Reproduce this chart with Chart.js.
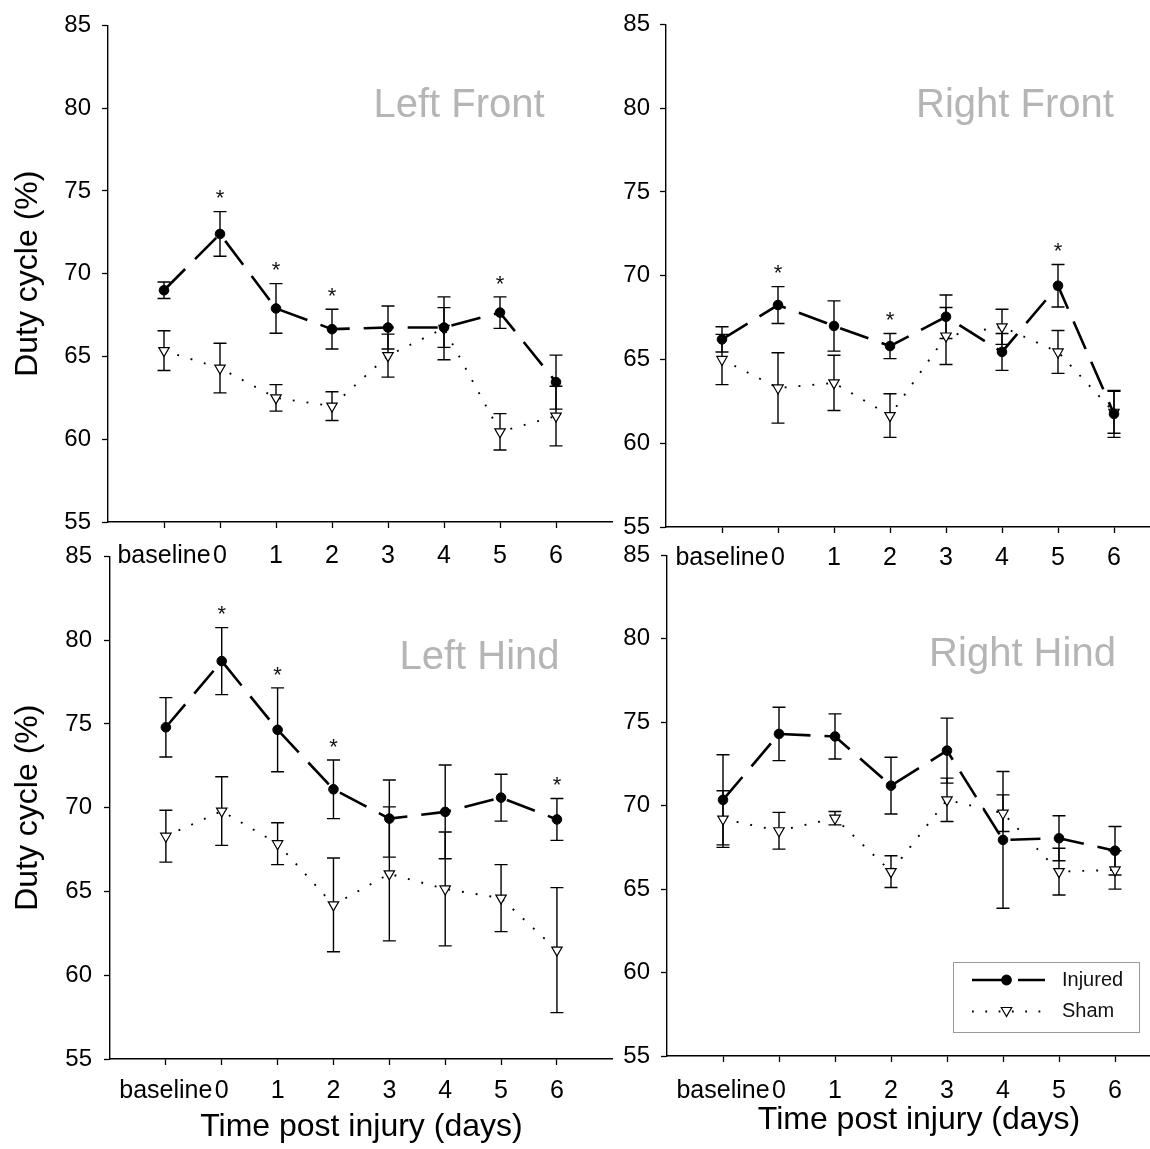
<!DOCTYPE html>
<html>
<head>
<meta charset="utf-8">
<script src="https://cdn.jsdelivr.net/npm/chart.js@4.4.1/dist/chart.umd.min.js"></script>
<style>
html,body{margin:0;padding:0;overflow:hidden;background:#fff;width:1150px;height:1149px;}
canvas{position:absolute;}
</style>
</head>
<body>
<canvas id="c0"></canvas>
<canvas id="c1"></canvas>
<canvas id="c2"></canvas>
<canvas id="c3"></canvas>
<script>
// ---------- DATA ----------
const categories = ['baseline', '0', '1', '2', '3', '4', '5', '6'];
const yTicks = [55, 60, 65, 70, 75, 80, 85];
const seriesNames = ['Injured', 'Sham'];
const panelTitles = ['Left Front', 'Right Front', 'Left Hind', 'Right Hind'];
const yAxisTitle = 'Duty cycle (%)';
const xAxisTitle = 'Time post injury (days)';

const leftFrontInjured   = [69.0, 72.4, 67.9, 66.65, 66.75, 66.75, 67.65, 63.45];
const leftFrontInjuredSE = [0.5, 1.35, 1.5, 1.2, 1.3, 1.2, 0.95, 1.63];
const leftFrontSham      = [65.35, 64.3, 62.5, 62.0, 65.05, 66.7, 60.45, 61.4];
const leftFrontShamSE    = [1.2, 1.5, 0.8, 0.87, 1.3, 1.9, 1.1, 1.8];
const leftFrontStars     = [1, 2, 3, 6];

const rightFrontInjured   = [66.2, 68.25, 67.0, 65.8, 67.55, 65.45, 69.4, 61.75];
const rightFrontInjuredSE = [0.75, 1.1, 1.5, 0.75, 1.3, 1.1, 1.27, 1.4];
const rightFrontSham      = [65.0, 63.3, 63.6, 61.65, 66.4, 66.95, 65.45, 61.85];
const rightFrontShamSE    = [1.5, 2.1, 1.65, 1.3, 1.7, 1.05, 1.28, 1.25];
const rightFrontStars     = [1, 3, 6];

const leftHindInjured   = [74.8, 78.75, 74.65, 71.1, 69.35, 69.75, 70.6, 69.3];
const leftHindInjuredSE = [1.77, 2.0, 2.5, 1.75, 2.3, 2.8, 1.4, 1.25];
const leftHindSham      = [68.3, 69.8, 67.85, 64.2, 66.05, 65.15, 64.6, 61.5];
const leftHindShamSE    = [1.55, 2.05, 1.25, 2.8, 4.0, 3.4, 2.0, 3.73];
const leftHindStars     = [1, 2, 3, 7];

const rightHindInjured   = [70.35, 74.3, 74.15, 71.2, 73.3, 67.95, 68.05, 67.3];
const rightHindInjuredSE = [2.7, 1.6, 1.35, 1.7, 1.95, 4.1, 1.35, 1.45];
const rightHindSham      = [69.2, 68.5, 69.25, 66.05, 70.35, 69.55, 66.05, 66.15];
const rightHindShamSE    = [1.7, 1.1, 0.4, 0.95, 1.3, 1.1, 1.4, 1.15];
const rightHindStars     = [];

// ---------- LAYOUT ----------
const FONT = "'Liberation Sans', Arial, Helvetica, sans-serif";
Chart.defaults.font.family = FONT;
Chart.defaults.color = '#000';

const panels = [
  {id:'c0', title:panelTitles[0], inj:leftFrontInjured, injSE:leftFrontInjuredSE, sham:leftFrontSham, shamSE:leftFrontShamSE, stars:leftFrontStars,
   left:0, top:0, w:620, h:580, cL:108, cT:18, cB:522, cR:612, yTitle:true, xTitle:false, xPad:14, yPad:11, xTitlePad:0, tx:459, ty:102.5, legend:false},
  {id:'c1', title:panelTitles[1], inj:rightFrontInjured, injSE:rightFrontInjuredSE, sham:rightFrontSham, shamSE:rightFrontShamSE, stars:rightFrontStars,
   left:560, top:0, w:620, h:580, cL:666, cT:22, cB:527, cR:1170, yTitle:false, xTitle:false, xPad:11, yPad:10, xTitlePad:0, tx:1015, ty:102.5, legend:false},
  {id:'c2', title:panelTitles[2], inj:leftHindInjured, injSE:leftHindInjuredSE, sham:leftHindSham, shamSE:leftHindShamSE, stars:leftHindStars,
   left:0, top:530, w:620, h:619, cL:110, cT:553, cB:1059, cR:614, yTitle:true, xTitle:true, xPad:12, yPad:12, xTitlePad:3, tx:479.5, ty:654.5, legend:false},
  {id:'c3', title:panelTitles[3], inj:rightHindInjured, injSE:rightHindInjuredSE, sham:rightHindSham, shamSE:rightHindShamSE, stars:rightHindStars,
   left:560, top:530, w:620, h:619, cL:667, cT:553, cB:1056, cR:1171, yTitle:false, xTitle:true, xPad:15, yPad:11, xTitlePad:10, tx:1022.5, ty:651.5, legend:true,
   lg:{x0:953, y0:962, x1:1139, y1:1032, lineX0:972, lineX1:1045, markX:1006.5, row1:980, row2:1011.5, textX:1062}}
];

const CIRCLE_R = 4.8;
const TRI_R = 6;

function drawMarker(ctx, kind, x, y) {
  ctx.save();
  ctx.lineWidth = 1.2;
  ctx.strokeStyle = '#000';
  ctx.setLineDash([]);
  if (kind === 'circle') {
    ctx.fillStyle = '#000';
    ctx.beginPath(); ctx.arc(x, y, CIRCLE_R, 0, Math.PI * 2); ctx.fill(); ctx.stroke();
  } else {
    const r = TRI_R;
    ctx.fillStyle = '#fff';
    ctx.beginPath();
    for (let k = 0; k < 3; k++) {
      const a = Math.PI + k * 2 * Math.PI / 3;
      const px = x + Math.sin(a) * r, py = y - Math.cos(a) * r;
      if (k === 0) ctx.moveTo(px, py); else ctx.lineTo(px, py);
    }
    ctx.closePath(); ctx.fill(); ctx.stroke();
  }
  ctx.restore();
}

function makeChart(p) {
  const cv = document.getElementById(p.id);
  cv.width = p.w; cv.height = p.h;
  cv.style.left = p.left + 'px'; cv.style.top = p.top + 'px';
  cv.style.width = p.w + 'px'; cv.style.height = p.h + 'px';
  const yW = p.cL - p.left;
  const xH = p.top + p.h - p.cB;

  const errorBars = {
    id: 'errorBars',
    beforeDatasetsDraw(chart) {
      const {ctx, scales: {x, y}} = chart;
      ctx.save();
      ctx.strokeStyle = '#000';
      ctx.lineWidth = 1.4;
      chart.data.datasets.forEach(ds => {
        ds.data.forEach((pt, i) => {
          const se = ds.se[i];
          const px = x.getPixelForValue(pt.x);
          const yt = y.getPixelForValue(pt.y + se);
          const yb = y.getPixelForValue(pt.y - se);
          ctx.beginPath();
          ctx.moveTo(px, yt); ctx.lineTo(px, yb);
          ctx.moveTo(px - 6.5, yt); ctx.lineTo(px + 6.5, yt);
          ctx.moveTo(px - 6.5, yb); ctx.lineTo(px + 6.5, yb);
          ctx.stroke();
        });
      });
      ctx.restore();
    }
  };

  const extras = {
    id: 'extras',
    afterDraw(chart) {
      const {ctx, scales: {x, y}} = chart;
      ctx.save();
      // significance stars
      const sz = 22;
      ctx.font = sz + 'px ' + FONT;
      ctx.fillStyle = '#111';
      ctx.textAlign = 'center';
      ctx.textBaseline = 'alphabetic';
      p.stars.forEach(i => {
        const px = x.getPixelForValue(i);
        const top = y.getPixelForValue(p.inj[i] + p.injSE[i]) - 19;
        ctx.fillText('*', px, top + 0.575 * sz);
      });
      // panel title
      ctx.font = '40px ' + FONT;
      ctx.fillStyle = '#b5b5b5';
      ctx.fillText(p.title, p.tx - p.left, p.ty - p.top + 0.358 * 40);
      // legend
      if (p.legend) {
        const g = p.lg, ox = p.left, oy = p.top;
        ctx.strokeStyle = '#999';
        ctx.lineWidth = 1;
        ctx.strokeRect(g.x0 - ox + 0.5, g.y0 - oy + 0.5, g.x1 - g.x0, g.y1 - g.y0);
        const ds = chart.data.datasets;
        // Injured
        ctx.strokeStyle = '#000';
        ctx.lineWidth = 2.6;
        ctx.setLineDash([38, 8]);
        ctx.beginPath(); ctx.moveTo(g.lineX0 - ox, g.row1 - oy); ctx.lineTo(g.lineX1 - ox, g.row1 - oy); ctx.stroke();
        drawMarker(ctx, 'circle', g.markX - ox, g.row1 - oy);
        // Sham
        ctx.lineWidth = 1.8;
        ctx.setLineDash([1.8, 11.5]);
        ctx.beginPath(); ctx.moveTo(g.lineX0 - ox, g.row2 - oy); ctx.lineTo(g.lineX1 - ox, g.row2 - oy); ctx.stroke();
        ctx.setLineDash([]);
        drawMarker(ctx, 'triangle', g.markX - ox, g.row2 - oy - 1);
        ctx.font = '20px ' + FONT;
        ctx.fillStyle = '#111';
        ctx.textAlign = 'left';
        ctx.textBaseline = 'middle';
        ctx.fillText(ds[0].label, g.textX - ox, g.row1 - oy);
        ctx.fillText(ds[1].label, g.textX - ox, g.row2 - oy);
      }
      ctx.restore();
    }
  };

  new Chart(cv, {
    type: 'line',
    data: {
      datasets: [
        {
          label: seriesNames[0],
          data: p.inj.map((v, i) => ({x: i, y: v})),
          se: p.injSE,
          borderColor: '#000', borderWidth: 2.6, borderDash: [30, 14],
          pointStyle: 'circle', pointRadius: CIRCLE_R, pointHoverRadius: CIRCLE_R,
          pointBackgroundColor: '#000', pointBorderColor: '#000', pointBorderWidth: 1,
          tension: 0, fill: false
        },
        {
          label: seriesNames[1],
          data: p.sham.map((v, i) => ({x: i, y: v})),
          se: p.shamSE,
          borderColor: '#000', borderWidth: 1.9, borderDash: [1.9, 12],
          pointStyle: 'triangle', rotation: 180, pointRadius: TRI_R, pointHoverRadius: TRI_R,
          pointBackgroundColor: '#fff', pointBorderColor: '#000', pointBorderWidth: 1.2,
          tension: 0, fill: false
        }
      ]
    },
    options: {
      responsive: false, animation: false, devicePixelRatio: 1,
      layout: {padding: {left: 0, top: p.cT - p.top, right: p.left + p.w - p.cR, bottom: 0}},
      plugins: {legend: {display: false}, tooltip: {enabled: false}},
      events: [],
      scales: {
        x: {
          type: 'linear', min: -1, max: 8,
          afterBuildTicks: s => { s.ticks = categories.map((c, i) => ({value: i})); },
          afterFit: s => { s.height = xH; },
          grid: {drawOnChartArea: false, drawTicks: true, tickLength: 6, tickColor: '#000', tickWidth: 1.3},
          border: {display: true, color: '#000', width: 1.4},
          ticks: {callback: v => categories[v], color: '#000', font: {size: 25}, padding: p.xPad - 0.6, maxRotation: 0, minRotation: 0, autoSkip: false},
          title: {display: p.xTitle, text: xAxisTitle, color: '#000', font: {size: 32}, padding: {top: 0, bottom: p.xTitlePad}}
        },
        y: {
          min: 55, max: 85,
          afterBuildTicks: s => { s.ticks = yTicks.map(v => ({value: v})); },
          afterFit: s => { s.width = yW; },
          grid: {drawOnChartArea: false, drawTicks: true, tickLength: 6, tickColor: '#000', tickWidth: 1.3},
          border: {display: true, color: '#000', width: 1.4},
          ticks: {color: '#000', font: {size: 24}, padding: p.yPad},
          title: {display: p.yTitle, text: yAxisTitle, color: '#000', font: {size: 32}, padding: {top: 9, bottom: 0}}
        }
      }
    },
    plugins: [errorBars, extras]
  });
}

panels.forEach(makeChart);
</script>
</body>
</html>
